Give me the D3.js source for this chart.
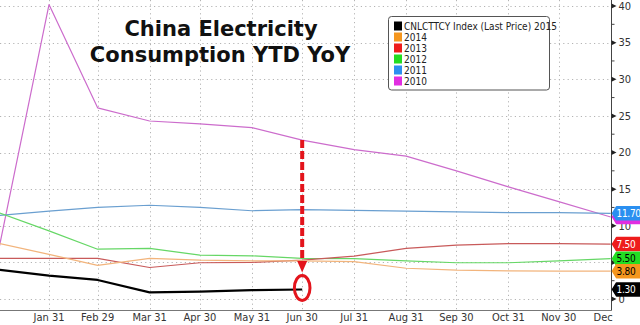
<!DOCTYPE html>
<html>
<head>
<meta charset="utf-8">
<script src="https://cdn.jsdelivr.net/npm/d3@7"></script>
<style>
  html, body { margin: 0; padding: 0; background: #fff; }
  svg { display: block; }
  .lbl { font-family: "Liberation Sans Narrow", "DejaVu Sans Condensed", "Arial Narrow", "Liberation Sans", sans-serif; font-stretch: condensed; }
</style>
</head>
<body>
<svg id="chart" width="640" height="325"></svg>
<script>
// Month-end dates (leap-year calendar) and the opening point
const dates = ["2016-01-01", "2016-01-31", "2016-02-29", "2016-03-31", "2016-04-30", "2016-05-31",
               "2016-06-30", "2016-07-31", "2016-08-31", "2016-09-30", "2016-10-31", "2016-11-30", "2016-12-31"];
const tickLabels = ["Jan 31", "Feb 29", "Mar 31", "Apr 30", "May 31", "Jun 30",
                    "Jul 31", "Aug 31", "Sep 30", "Oct 31", "Nov 30", "Dec"];
const yTicks = [0, 5, 10, 15, 20, 25, 30, 35, 40];

// YTD YoY electricity consumption growth, %
const s2015 = [4.0, 3.2, 2.6, 0.9, 1.0, 1.2, 1.3];
const s2014 = [7.6, 6.1, 4.6, 5.55, 5.3, 5.2, 5.2, 5.1, 4.2, 3.95, 3.85, 3.8, 3.8];
const s2013 = [5.55, 5.55, 5.55, 4.3, 4.95, 5.0, 5.3, 5.85, 6.9, 7.35, 7.55, 7.55, 7.5];
const s2012 = [11.8, 9.3, 6.8, 6.9, 6.0, 5.9, 5.55, 5.5, 5.2, 4.95, 4.95, 5.2, 5.5];
const s2011 = [11.4, 12.0, 12.5, 12.8, 12.5, 12.05, 12.2, 12.1, 12.0, 11.9, 11.8, 11.8, 11.7];
const s2010 = [6.7, 40.2, 26.1, 24.3, 23.9, 23.4, 21.7, 20.4, 19.5, 17.5, 15.3, 13.3, 11.2];

const seriesNames = ["CNLCTTCY Index (Last Price) 2015", "2014", "2013", "2012", "2011", "2010"];
const seriesData = [s2015, s2014, s2013, s2012, s2011, s2010];
const lineColors = ["#000000", "#f2b47c", "#c85a5a", "#66d766", "#6a9fd0", "#cc6ccc"];
const tagColors = ["#000000", "#f4961e", "#ee1c1c", "#22dd22", "#2b8ff0", "#e12ee1"];
const tagText = ["#ffffff", "#000000", "#ffffff", "#000000", "#ffffff", "#ffffff"];

const parse = d3.utcParse("%Y-%m-%d");
const dt = dates.map(parse);

const svg = d3.select("#chart");
const axisX = 611.5, axisY = 310.5;

const x = d3.scaleUtc().domain([dt[0], dt[dt.length - 1]]).range([-1.3, 610.7]);
const y = d3.scaleLinear().domain([0, 40]).range([299, 6]);

// Grid
const grid = svg.append("g").attr("stroke", "#b4b4b4").attr("stroke-dasharray", "1.2,3.2").attr("stroke-width", 1);
grid.selectAll("line.h").data(yTicks).join("line")
  .attr("x1", 0).attr("x2", axisX).attr("y1", d => Math.round(y(d)) + 0.5).attr("y2", d => Math.round(y(d)) + 0.5);
grid.selectAll("line.v").data(dt.slice(1, 12)).join("line")
  .attr("y1", 0).attr("y2", axisY).attr("x1", d => Math.round(x(d)) + 0.5).attr("x2", d => Math.round(x(d)) + 0.5);

// Series lines (drawn oldest first so 2015 sits on top)
const line = d3.line().x((d, i) => x(dt[i])).y(d => y(d));
const plot = svg.append("g");
for (let k = seriesData.length - 1; k >= 0; k--) {
  plot.append("path")
    .attr("d", line(seriesData[k]))
    .attr("fill", "none")
    .attr("stroke", lineColors[k])
    .attr("stroke-width", k === 0 ? 2.2 : 1.2)
    .attr("stroke-linejoin", "round");
}

// Axes
svg.append("line").attr("x1", 0).attr("x2", axisX).attr("y1", axisY).attr("y2", axisY).attr("stroke", "#777");
svg.append("line").attr("x1", axisX).attr("x2", axisX).attr("y1", 0).attr("y2", axisY).attr("stroke", "#444");

// Right-hand y ticks
const minor = d3.range(2.5, 40, 5);
svg.append("g").selectAll("line").data(minor).join("line")
  .attr("x1", axisX).attr("x2", axisX + 3).attr("y1", d => y(d)).attr("y2", d => y(d)).attr("stroke", "#444");
svg.append("g").selectAll("path").data(yTicks).join("path")
  .attr("d", d => `M${axisX},${y(d) - 2.5}L${axisX + 5},${y(d)}L${axisX},${y(d) + 2.5}Z`)
  .attr("fill", "#222");
svg.append("g").selectAll("text").data(yTicks).join("text")
  .attr("class", "lbl")
  .attr("x", axisX + 7).attr("y", d => y(d)).attr("dy", "0.35em")
  .attr("font-size", 11).attr("fill", "#333")
  .text(d => d);

// x tick labels
svg.append("g").selectAll("text").data(tickLabels).join("text")
  .attr("class", "lbl")
  .attr("x", (d, i) => i === 11 ? x(dt[12]) + 2 : x(dt[i + 1]))
  .attr("y", 321)
  .attr("text-anchor", (d, i) => i === 11 ? "end" : "middle")
  .attr("font-size", 11).attr("fill", "#333")
  .text(d => d);

// Last-value tags on the right axis
const tagOrder = [5, 4, 2, 3, 1, 0];
const tags = svg.append("g");
tagOrder.forEach(k => {
  const s = seriesData[k];
  const v = s[s.length - 1];
  const ty = y(v);
  tags.append("path")
    .attr("d", `M${axisX + 1},${ty}L${axisX + 5},${ty - 6.5}L${axisX + 8},${ty - 6.5}L644,${ty - 6.5}L644,${ty + 6.5}L${axisX + 8},${ty + 6.5}L${axisX + 5},${ty + 6.5}Z`)
    .attr("fill", tagColors[k]).attr("stroke", tagColors[k]).attr("stroke-linejoin", "round").attr("stroke-width", 1.5);
  if (k !== 5) {
    tags.append("text").attr("class", "lbl")
      .attr("x", axisX + 5).attr("y", ty).attr("dy", "0.36em")
      .attr("font-size", 10).attr("letter-spacing", -0.3).attr("fill", tagText[k])
      .text(v.toFixed(2));
  }
});

// Red callout: dashed arrow from the 2010 line down to the latest 2015 reading
const jun = dt[6];
const cx = x(jun);
const lastVal = s2015[s2015.length - 1];
const callout = svg.append("g").attr("fill", "none").attr("stroke", "#e3141c");
callout.append("line")
  .attr("x1", cx).attr("x2", cx)
  .attr("y1", y(s2010[6])).attr("y2", y(lastVal) - 27)
  .attr("stroke-width", 4).attr("stroke-dasharray", "8,3");
svg.append("path")
  .attr("d", `M${cx - 5},${y(lastVal) - 28.5}L${cx + 5},${y(lastVal) - 28.5}L${cx},${y(lastVal) - 17}Z`)
  .attr("fill", "#e3141c");
callout.append("ellipse")
  .attr("cx", cx).attr("cy", y(lastVal) - 1.5)
  .attr("rx", 7.8).attr("ry", 12.5)
  .attr("stroke-width", 3);

// Title
const title = svg.append("text")
  .attr("font-family", "'DejaVu Sans', Verdana, sans-serif")
  .attr("font-weight", "bold").attr("font-size", 21)
  .attr("text-anchor", "middle").attr("fill", "#111");
title.append("tspan").attr("x", 221).attr("y", 36).text("China Electricity");
title.append("tspan").attr("x", 220).attr("y", 61.5).text("Consumption YTD YoY");

// Legend
const lg = svg.append("g");
lg.append("rect").attr("x", 388.5).attr("y", 16.5).attr("width", 161).attr("height", 73.5)
  .attr("rx", 3).attr("fill", "#fff").attr("stroke", "#555");
seriesNames.forEach((name, i) => {
  const ry = 26 + i * 11;
  lg.append("rect").attr("x", 394).attr("y", ry - 4.5).attr("width", 8).attr("height", 9).attr("fill", tagColors[i]);
  lg.append("text").attr("class", "lbl")
    .attr("x", 404).attr("y", ry).attr("dy", "0.36em")
    .attr("font-size", 10).attr("fill", "#222")
    .text(name);
});
</script>
</body>
</html>
